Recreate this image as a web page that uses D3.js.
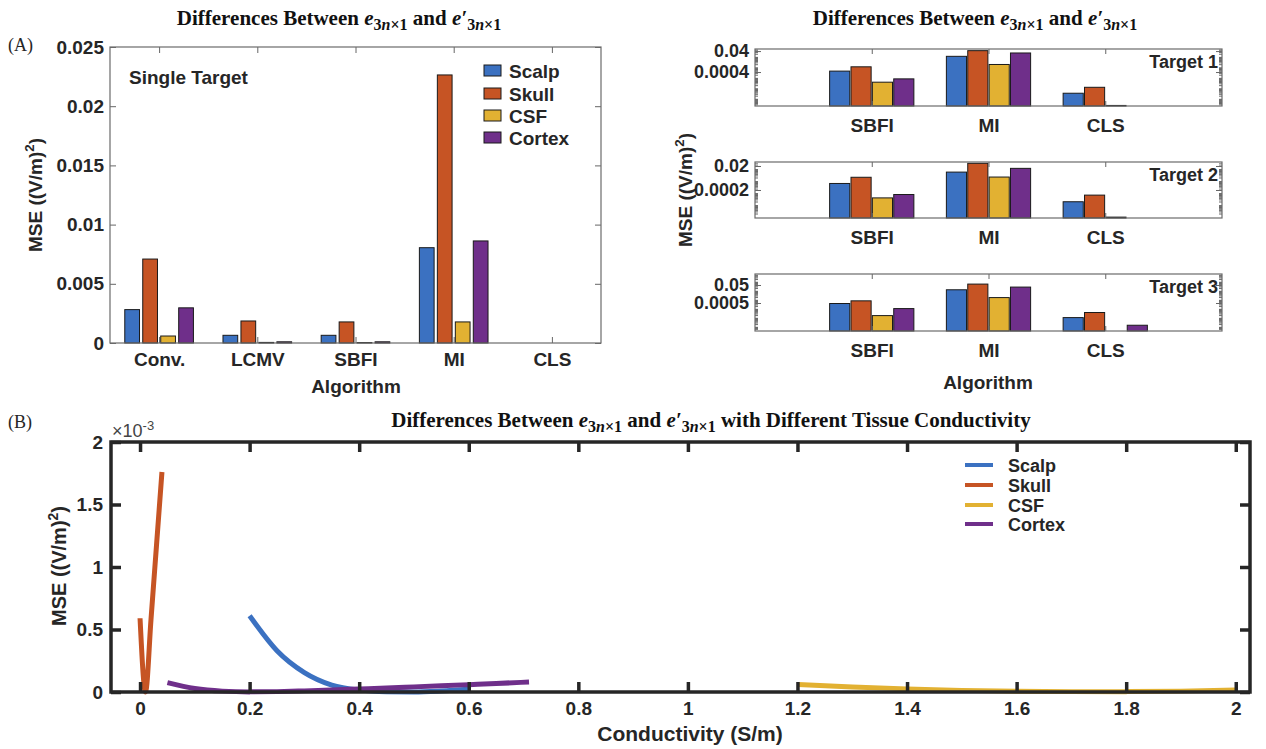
<!DOCTYPE html>
<html>
<head>
<meta charset="utf-8">
<script src="https://cdn.jsdelivr.net/npm/d3@7"></script>
<style>
  body { margin: 0; background: #fff; }
  text { font-family: "Liberation Sans", Arial, sans-serif; fill: #262626; }
</style>
</head>
<body>
<svg id="chart" width="1266" height="749"></svg>
<script>
// ---- data ----
const tissues = ["Scalp", "Skull", "CSF", "Cortex"];
const colors = ["#3b71c1", "#c65424", "#e2b132", "#6f2f8a"];

// (A) single target, MSE per algorithm
const algorithms = ["Conv.", "LCMV", "SBFI", "MI", "CLS"];
const singleScalp  = [0.00282, 0.00065, 0.00065, 0.00805, 0];
const singleSkull  = [0.00709, 0.00186, 0.00178, 0.02264, 0];
const singleCSF    = [0.00059, 0.00005, 0.00004, 0.00178, 0];
const singleCortex = [0.00297, 0.00010, 0.00010, 0.00862, 0];

// (A) multi target, log axis; categories SBFI, MI, CLS
const targetAlgorithms = ["SBFI", "MI", "CLS"];
const target1Scalp  = [4.9e-4, 0.0126, 3.8e-6];
const target1Skull  = [1.26e-3, 0.0437, 1.4e-5];
const target1CSF    = [4.3e-5, 2.1e-3, 2.6e-7];
const target1Cortex = [8.9e-5, 0.0263, 0];
const target2Scalp  = [7.0e-4, 6.2e-3, 2.1e-5];
const target2Skull  = [2.3e-3, 0.0334, 7.5e-5];
const target2CSF    = [4.4e-5, 2.4e-3, 1.1e-6];
const target2Cortex = [8.4e-5, 0.0127, 0];
const target3Scalp  = [4.4e-4, 0.0147, 1.2e-5];
const target3Skull  = [8.7e-4, 0.063, 4.4e-5];
const target3CSF    = [2.0e-5, 2.0e-3, 0];
const target3Cortex = [1.2e-4, 0.0293, 1.7e-6];
const targetTickLabels = [["0.0004", "0.04"], ["0.0002", "0.02"], ["0.0005", "0.05"]];

// (B) MSE (x10^-3) vs conductivity
const scalpCond  = [0.2, 0.25, 0.3, 0.35, 0.4, 0.45, 0.5, 0.55, 0.6];
const scalpMSE   = [0.61, 0.33, 0.155, 0.055, 0.015, 0.002, 0.0, 0.008, 0.022];
const skullCond  = [0, 0.01, 0.02, 0.03, 0.04];
const skullMSE   = [0.59, 0.0, 0.58, 1.17, 1.76];
const csfCond    = [1.2, 1.3, 1.4, 1.5, 1.6, 1.7, 1.8, 1.9, 2.0];
const csfMSE     = [0.06, 0.04, 0.025, 0.013, 0.006, 0.003, 0.003, 0.007, 0.016];
const cortexCond = [0.05, 0.1, 0.15, 0.2, 0.25, 0.3, 0.35, 0.4, 0.45, 0.5, 0.55, 0.6, 0.65, 0.71];
const cortexMSE  = [0.075, 0.028, 0.007, 0.001, 0.003, 0.009, 0.016, 0.024, 0.032, 0.041, 0.05, 0.059, 0.068, 0.08];
const condTicks = [0, 0.2, 0.4, 0.6, 0.8, 1, 1.2, 1.4, 1.6, 1.8, 2];
const mseTicks  = [0, 0.5, 1, 1.5, 2];

const svg = d3.select("#chart");

// Titel mit e_{3n×1}
function title(x, y, extra) {
    const t = svg.append("text")
        .attr("x", x).attr("y", y)
        .attr("text-anchor", "middle")
        .style("font-family", "'Liberation Serif', serif")
        .style("font-weight", "bold")
        .style("font-size", "21px")
        .style("fill", "#111");
    t.append("tspan").text("Differences Between ");
    t.append("tspan").style("font-style", "italic").text("e");
    t.append("tspan").attr("dy", 5).style("font-size", "16px").text("3");
    t.append("tspan").style("font-size", "16px").style("font-style", "italic").text("n");
    t.append("tspan").style("font-size", "16px").text("×1");
    t.append("tspan").attr("dy", -5).text(" and ");
    t.append("tspan").style("font-style", "italic").text("e′");
    t.append("tspan").attr("dy", 5).style("font-size", "16px").text("3");
    t.append("tspan").style("font-size", "16px").style("font-style", "italic").text("n");
    t.append("tspan").style("font-size", "16px").text("×1");
    if (extra) t.append("tspan").attr("dy", -5).text(extra);
}

function yLabel(x, y, size) {
    const t = svg.append("text")
        .attr("transform", `translate(${x},${y}) rotate(-90)`)
        .attr("text-anchor", "middle")
        .style("font-weight", "bold")
        .style("font-size", size + "px");
    t.append("tspan").text("MSE ((V/m)");
    t.append("tspan").attr("dy", -8).style("font-size", (size * 0.7) + "px").text("2");
    t.append("tspan").attr("dy", 8).text(")");
}

function styleAxis(g, size, tickColor) {
    g.select(".domain").remove();
    g.selectAll(".tick line").attr("stroke", tickColor);
    g.selectAll(".tick text")
        .style("font-size", size + "px")
        .style("font-weight", "bold")
        .attr("fill", "#262626");
}

// ================= (A) Single target =================
const A = { left: 110, right: 601, top: 47, bottom: 343 };
const xA = d3.scaleLinear().domain([0.5, 5.5]).range([A.left, A.right]);
const yA = d3.scaleLinear().domain([0, 0.025]).range([A.bottom, A.top]);
const groupStep = 0.183, barW = 0.15;
const singleSeries = [singleScalp, singleSkull, singleCSF, singleCortex];

singleSeries.forEach((vals, s) => {
    vals.forEach((v, i) => {
        if (v <= 0) return;
        const cx = i + 1 + (s - 1.5) * groupStep;
        svg.append("rect")
            .attr("x", xA(cx - barW / 2))
            .attr("width", xA(barW) - xA(0))
            .attr("y", yA(v))
            .attr("height", yA(0) - yA(v))
            .attr("fill", colors[s])
            .attr("stroke", "#1a1a1a")
            .attr("stroke-width", 1);
    });
});

const fmtA = d => d === 0 ? "0" : String(+d.toFixed(3));
const yTicksA = [0, 0.005, 0.01, 0.015, 0.02, 0.025];
svg.append("g").attr("transform", `translate(${A.left},0)`)
    .call(d3.axisLeft(yA).tickValues(yTicksA).tickFormat(fmtA).tickSizeInner(-6).tickSizeOuter(0).tickPadding(6))
    .call(g => styleAxis(g, 19, "#666"));
svg.append("g").attr("transform", `translate(${A.right},0)`)
    .call(d3.axisRight(yA).tickValues(yTicksA).tickFormat("").tickSizeInner(-6).tickSizeOuter(0))
    .call(g => styleAxis(g, 19, "#666"));
svg.append("g").attr("transform", `translate(0,${A.bottom})`)
    .call(d3.axisBottom(xA).tickValues([1, 2, 3, 4, 5]).tickFormat(i => algorithms[i - 1]).tickSizeInner(-6).tickSizeOuter(0).tickPadding(10))
    .call(g => styleAxis(g, 19, "#666"));
svg.append("g").attr("transform", `translate(0,${A.top})`)
    .call(d3.axisTop(xA).tickValues([1, 2, 3, 4, 5]).tickFormat("").tickSizeInner(-6).tickSizeOuter(0))
    .call(g => styleAxis(g, 19, "#666"));
svg.append("rect").attr("x", A.left).attr("y", A.top)
    .attr("width", A.right - A.left).attr("height", A.bottom - A.top)
    .attr("fill", "none").attr("stroke", "#6b6b6b").attr("stroke-width", 1.2);

svg.append("text").attr("x", 129).attr("y", 84)
    .style("font-weight", "bold").style("font-size", "19px").text("Single Target");

// Legende A
tissues.forEach((name, i) => {
    const y = [71, 94, 116, 138][i];
    svg.append("rect").attr("x", 484).attr("y", y - 6).attr("width", 17).attr("height", 11)
        .attr("fill", colors[i]).attr("stroke", "#1a1a1a").attr("stroke-width", 1);
    svg.append("text").attr("x", 509).attr("y", y + 7)
        .style("font-weight", "bold").style("font-size", "19px").text(name);
});

svg.append("text").attr("x", 356).attr("y", 393).attr("text-anchor", "middle")
    .style("font-weight", "bold").style("font-size", "19px").text("Algorithm");
yLabel(42, 195, 19);
svg.append("text").attr("x", 8).attr("y", 51)
    .style("font-family", "'Liberation Serif', serif").style("font-size", "18px").text("(A)");
title(339, 25);

// ================= (A) Multi target =================
const R = { left: 755, right: 1222 };
const panels = [
    { top: 49, bottom: 106, dom: [2.3e-7, 0.063], ticks: [4e-4, 0.04],
      series: [target1Scalp, target1Skull, target1CSF, target1Cortex], label: "Target 1" },
    { top: 162, bottom: 218, dom: [9.3e-7, 0.043], ticks: [2e-4, 0.02],
      series: [target2Scalp, target2Skull, target2CSF, target2Cortex], label: "Target 2" },
    { top: 274, bottom: 331, dom: [3.9e-7, 0.83], ticks: [5e-4, 0.05],
      series: [target3Scalp, target3Skull, target3CSF, target3Cortex], label: "Target 3" }
];
const xR = d3.scaleLinear().domain([2, 6]).range([R.left, R.right]);

panels.forEach((p, k) => {
    const yR = d3.scaleLog().domain(p.dom).range([p.bottom, p.top]);
    p.series.forEach((vals, s) => {
        vals.forEach((v, i) => {
            if (v <= p.dom[0]) return;
            const cx = i + 3 + (s - 1.5) * groupStep;
            svg.append("rect")
                .attr("x", xR(cx - barW / 2 * 1.15))
                .attr("width", xR(barW * 1.15) - xR(0))
                .attr("y", yR(v))
                .attr("height", p.bottom - yR(v))
                .attr("fill", colors[s])
                .attr("stroke", "#1a1a1a")
                .attr("stroke-width", 1);
        });
    });
    // Minor-Ticks (log)
    const minor = yR.ticks().filter(t => yR(t) > p.top + 1 && yR(t) < p.bottom - 1);
    [R.left, R.right].forEach((x0, side) => {
        svg.append("g").selectAll("line").data(minor).join("line")
            .attr("x1", x0).attr("x2", x0 + (side ? -3 : 3))
            .attr("y1", d => yR(d)).attr("y2", d => yR(d))
            .attr("stroke", "#666").attr("stroke-width", 1);
    });
    svg.append("g").attr("transform", `translate(${R.left},0)`)
        .call(d3.axisLeft(yR).tickValues(p.ticks).tickFormat((d, j) => targetTickLabels[k][j])
            .tickSizeInner(-6).tickSizeOuter(0).tickPadding(6))
        .call(g => styleAxis(g, 18, "#666"));
    svg.append("g").attr("transform", `translate(${R.right},0)`)
        .call(d3.axisRight(yR).tickValues(p.ticks).tickFormat("").tickSizeInner(-6).tickSizeOuter(0))
        .call(g => styleAxis(g, 18, "#666"));
    svg.append("g").attr("transform", `translate(0,${p.bottom})`)
        .call(d3.axisBottom(xR).tickValues([3, 4, 5]).tickFormat(i => targetAlgorithms[i - 3])
            .tickSizeInner(-5).tickSizeOuter(0).tickPadding(13))
        .call(g => styleAxis(g, 19, "#666"));
    svg.append("g").attr("transform", `translate(0,${p.top})`)
        .call(d3.axisTop(xR).tickValues([3, 4, 5]).tickFormat("").tickSizeInner(-5).tickSizeOuter(0))
        .call(g => styleAxis(g, 19, "#666"));
    svg.append("rect").attr("x", R.left).attr("y", p.top)
        .attr("width", R.right - R.left).attr("height", p.bottom - p.top)
        .attr("fill", "none").attr("stroke", "#6b6b6b").attr("stroke-width", 1.2);
    svg.append("text").attr("x", R.right - 4).attr("y", p.top + 19).attr("text-anchor", "end")
        .style("font-weight", "bold").style("font-size", "18px").text(p.label);
});

svg.append("text").attr("x", 988).attr("y", 389).attr("text-anchor", "middle")
    .style("font-weight", "bold").style("font-size", "19px").text("Algorithm");
yLabel(692, 190, 19);
title(975, 25);

// ================= (B) Conductivity =================
const B = { left: 111, right: 1250, top: 442, bottom: 692 };
const xB = d3.scaleLinear().domain([-0.053, 2.026]).range([B.left, B.right]);
const yB = d3.scaleLinear().domain([0, 2]).range([B.bottom, B.top]);

const lineSeries = [
    { x: scalpCond, y: scalpMSE },
    { x: skullCond, y: skullMSE },
    { x: csfCond, y: csfMSE },
    { x: cortexCond, y: cortexMSE }
];
const line = d3.line().x(d => xB(d[0])).y(d => yB(d[1])).curve(d3.curveMonotoneX);
lineSeries.forEach((s, i) => {
    svg.append("path")
        .datum(s.x.map((c, j) => [c, s.y[j]]))
        .attr("d", line)
        .attr("fill", "none")
        .attr("stroke", colors[i])
        .attr("stroke-width", 5);
});

const fmtB = d => String(d);
svg.append("g").attr("transform", `translate(0,${B.bottom})`)
    .call(d3.axisBottom(xB).tickValues(condTicks).tickFormat(fmtB).tickSizeInner(-10).tickSizeOuter(0).tickPadding(10))
    .call(g => styleAxis(g, 19, "#262626"))
    .call(g => g.selectAll(".tick line").attr("stroke-width", 3.5));
svg.append("g").attr("transform", `translate(0,${B.top})`)
    .call(d3.axisTop(xB).tickValues(condTicks).tickFormat("").tickSizeInner(-10).tickSizeOuter(0))
    .call(g => styleAxis(g, 19, "#262626"))
    .call(g => g.selectAll(".tick line").attr("stroke-width", 3.5));
svg.append("g").attr("transform", `translate(${B.left},0)`)
    .call(d3.axisLeft(yB).tickValues(mseTicks).tickFormat(fmtB).tickSizeInner(-10).tickSizeOuter(0).tickPadding(8))
    .call(g => styleAxis(g, 19, "#262626"))
    .call(g => g.selectAll(".tick line").attr("stroke-width", 3.5));
svg.append("g").attr("transform", `translate(${B.right},0)`)
    .call(d3.axisRight(yB).tickValues(mseTicks).tickFormat("").tickSizeInner(-10).tickSizeOuter(0))
    .call(g => styleAxis(g, 19, "#262626"))
    .call(g => g.selectAll(".tick line").attr("stroke-width", 3.5));
svg.append("rect").attr("x", B.left).attr("y", B.top)
    .attr("width", B.right - B.left).attr("height", B.bottom - B.top)
    .attr("fill", "none").attr("stroke", "#262626").attr("stroke-width", 3.5);

// ×10^-3
const exp = svg.append("text").attr("x", 112).attr("y", 437)
    .style("font-size", "18px").style("fill", "#444");
exp.append("tspan").text("×10");
exp.append("tspan").attr("dy", -7).style("font-size", "13px").text("-3");

// Legende B
tissues.forEach((name, i) => {
    const y = [465, 485, 505, 524][i];
    svg.append("line").attr("x1", 965).attr("x2", 993).attr("y1", y).attr("y2", y)
        .attr("stroke", colors[i]).attr("stroke-width", 4);
    svg.append("text").attr("x", 1008).attr("y", y + 7)
        .style("font-weight", "bold").style("font-size", "18px").text(name);
});

svg.append("text").attr("x", 690).attr("y", 741).attr("text-anchor", "middle")
    .style("font-weight", "bold").style("font-size", "21px").text("Conductivity (S/m)");
yLabel(66, 566, 20);
svg.append("text").attr("x", 8).attr("y", 428)
    .style("font-family", "'Liberation Serif', serif").style("font-size", "18px").text("(B)");
title(711, 427, " with Different Tissue Conductivity");
</script>
</body>
</html>
